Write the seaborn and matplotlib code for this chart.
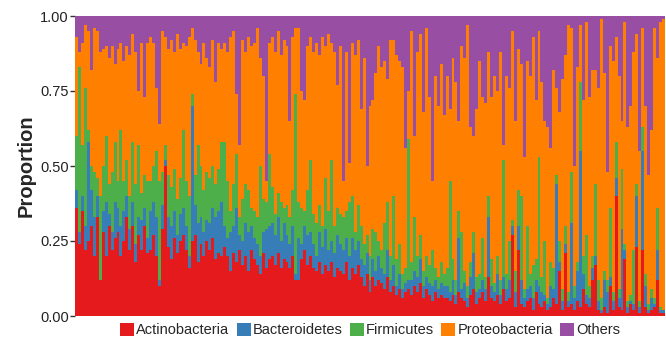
import numpy as np
import pandas as pd
import matplotlib
matplotlib.use("Agg")
import matplotlib.pyplot as plt
from matplotlib.patches import Patch
import seaborn as sns

# Phylum proportions per sample, in percent (Others = remainder to 100)
actinobacteria = [
    36, 24, 35, 22, 25, 30, 20, 33, 12, 28, 20, 30, 22, 26, 28, 20, 25, 33, 22, 30, 18, 27, 22, 30, 21,
    22, 27, 20, 10, 29, 50, 23, 19, 26, 21, 25, 27, 22, 16, 25, 27, 18, 24, 20, 25, 22, 26, 19, 21, 20,
    23, 20, 15, 21, 18, 22, 17, 20, 15, 22, 19, 17, 14, 21, 16, 19, 20, 17, 21, 16, 19, 18, 16, 20, 12,
    12, 19, 22, 17, 20, 16, 15, 18, 14, 17, 15, 18, 13, 16, 15, 14, 18, 12, 16, 14, 17, 13, 10, 14, 8,
    13, 10, 12, 11, 9, 13, 8, 10, 7, 9, 6, 8, 9, 7, 10, 8, 11, 6, 9, 7, 5, 8, 6, 7, 6,
    6, 5, 7, 4, 8, 6, 5, 3, 7, 9, 4, 6, 8, 5, 13, 6, 5, 7, 4, 9, 5, 6, 27, 3, 22,
    4, 3, 5, 6, 2, 8, 4, 3, 5, 2, 3, 6, 4, 15, 2, 21, 3, 4, 2, 5, 3, 9, 4, 3, 12,
    17, 2, 1, 3, 1, 10, 2, 40, 3, 2, 19, 1, 4, 2, 23, 1, 22, 3, 1, 2, 3, 12, 1, 1,
]
bacteroidetes = [
    6, 4, 5, 8, 33, 12, 13, 7, 0, 7, 18, 4, 6, 12, 8, 10, 10, 7, 7, 8, 6, 6, 10, 6, 5,
    13, 11, 13, 2, 8, 2, 10, 11, 9, 6, 9, 9, 8, 4, 45, 10, 13, 9, 8, 7, 9, 10, 14, 14, 18,
    7, 6, 13, 9, 18, 5, 8, 11, 13, 8, 7, 7, 6, 7, 13, 11, 11, 10, 12, 9, 12, 9, 8, 10, 2,
    14, 5, 8, 10, 8, 8, 5, 10, 9, 12, 7, 7, 8, 11, 9, 8, 8, 8, 10, 8, 8, 6, 7, 7, 4,
    6, 5, 8, 5, 5, 9, 4, 7, 3, 5, 3, 3, 3, 5, 5, 5, 8, 4, 4, 4, 5, 4, 3, 4, 4,
    4, 3, 5, 3, 18, 3, 6, 3, 6, 12, 4, 3, 4, 4, 20, 4, 3, 7, 3, 4, 4, 6, 3, 5, 8,
    8, 3, 4, 4, 4, 4, 6, 5, 2, 2, 7, 3, 40, 3, 3, 3, 2, 27, 4, 10, 52, 5, 3, 3, 4,
    3, 3, 1, 9, 7, 3, 3, 6, 3, 27, 3, 2, 1, 2, 17, 2, 33, 7, 1, 4, 1, 10, 1, 1,
]
firmicutes = [
    18, 55, 17, 46, 4, 8, 15, 6, 28, 15, 22, 10, 20, 20, 9, 32, 10, 12, 11, 20, 20, 24, 9, 11, 19,
    10, 12, 22, 33, 11, 5, 14, 13, 14, 12, 12, 26, 15, 20, 4, 10, 26, 17, 14, 16, 15, 14, 11, 14, 20,
    28, 19, 7, 14, 18, 6, 14, 13, 14, 6, 9, 9, 30, 11, 9, 24, 12, 7, 8, 13, 5, 10, 9, 12, 60,
    12, 12, 5, 15, 24, 10, 11, 9, 7, 17, 13, 27, 9, 9, 10, 11, 9, 18, 14, 6, 12, 11, 7, 6, 8,
    10, 13, 5, 6, 17, 16, 8, 23, 9, 10, 5, 5, 47, 6, 18, 7, 8, 5, 7, 6, 12, 4, 4, 7, 4,
    6, 37, 7, 5, 9, 19, 4, 4, 5, 7, 5, 5, 14, 4, 7, 9, 3, 6, 5, 39, 5, 13, 2, 7, 12,
    28, 3, 21, 4, 11, 7, 43, 5, 18, 2, 8, 7, 3, 7, 4, 6, 3, 17, 4, 3, 23, 6, 20, 4, 4,
    24, 7, 4, 3, 4, 23, 3, 12, 3, 20, 2, 2, 2, 18, 4, 2, 8, 4, 2, 3, 2, 14, 1, 0,
]
proteobacteria = [
    33, 5, 34, 21, 33, 32, 48, 49, 48, 39, 30, 42, 42, 26, 44, 29, 40, 38, 47, 36, 44, 18, 50, 26, 46,
    48, 41, 21, 19, 47, 36, 42, 49, 39, 55, 43, 29, 45, 53, 22, 45, 31, 34, 49, 38, 37, 42, 34, 42, 31,
    33, 43, 58, 51, 20, 24, 53, 44, 51, 54, 56, 63, 36, 41, 7, 37, 50, 54, 54, 49, 56, 53, 32, 51, 22,
    58, 39, 37, 48, 41, 54, 60, 50, 63, 44, 59, 39, 58, 41, 56, 12, 53, 13, 51, 59, 55, 39, 62, 23, 50,
    43, 53, 65, 61, 54, 41, 72, 52, 68, 61, 69, 40, 16, 77, 27, 68, 67, 53, 76, 56, 23, 64, 57, 66, 53,
    64, 24, 67, 66, 30, 62, 71, 87, 45, 32, 56, 71, 47, 58, 48, 54, 69, 55, 76, 5, 66, 51, 63, 50, 47,
    44, 44, 55, 66, 76, 53, 42, 65, 40, 57, 38, 66, 29, 43, 70, 57, 89, 48, 40, 65, 19, 52, 71, 63, 62,
    38, 64, 93, 66, 36, 54, 77, 35, 71, 16, 74, 58, 63, 66, 50, 50, 33, 56, 43, 53, 90, 50, 95, 97,
]

phyla = ["Actinobacteria", "Bacteroidetes", "Firmicutes", "Proteobacteria", "Others"]
palette = ["#E41A1C", "#377EB8", "#4DAF4A", "#FF7F00", "#984EA3"]
yticks = [0.0, 0.25, 0.5, 0.75, 1.0]
ytick_labels = ["0.00", "0.25", "0.50", "0.75", "1.00"]

parts = np.array([actinobacteria, bacteroidetes, firmicutes, proteobacteria], dtype=float) / 100.0
others = 1.0 - parts.sum(axis=0)
props = np.vstack([parts, others])
cum = np.cumsum(props, axis=0)
n = props.shape[1]

df = pd.DataFrame({"sample": np.arange(n)})
for i, name in enumerate(phyla):
    df[name] = cum[i]

sns.set_theme(style="white")
plt.rcParams["font.family"] = ["Liberation Sans", "DejaVu Sans"]

fig = plt.figure(figsize=(6.66, 3.40), dpi=100)
ax = fig.add_axes([75 / 666, 24 / 340, 590 / 666, 300 / 340])

for i in range(len(phyla) - 1, -1, -1):
    sns.barplot(data=df, x="sample", y=phyla[i], color=palette[i], width=1.0,
                linewidth=0, errorbar=None, saturation=1, ax=ax, antialiased=False)

ax.set_xlim(-0.5, n - 0.5)
ax.set_ylim(0, 1)
ax.set_xticks([])
ax.set_xlabel("")
ax.set_yticks(yticks)
ax.set_yticklabels(ytick_labels, fontsize=10.5, color="#222222")
ax.tick_params(axis="y", left=True, length=3.5, width=1, color="#333333", pad=1)
ax.set_ylabel("Proportion", fontsize=14.5, fontweight="bold", labelpad=3)
for s in ax.spines.values():
    s.set_visible(False)

handles = [Patch(facecolor=c, edgecolor="none", label=p) for p, c in zip(phyla, palette)]
fig.legend(handles=handles, loc="center", bbox_to_anchor=(0.556, 1 - 330 / 340), ncol=5,
           frameon=False, fontsize=10.5, handlelength=0.95, handleheight=1.0,
           handletextpad=0.15, columnspacing=0.5, borderpad=0, borderaxespad=0)

fig.savefig("out.png", dpi=100)
